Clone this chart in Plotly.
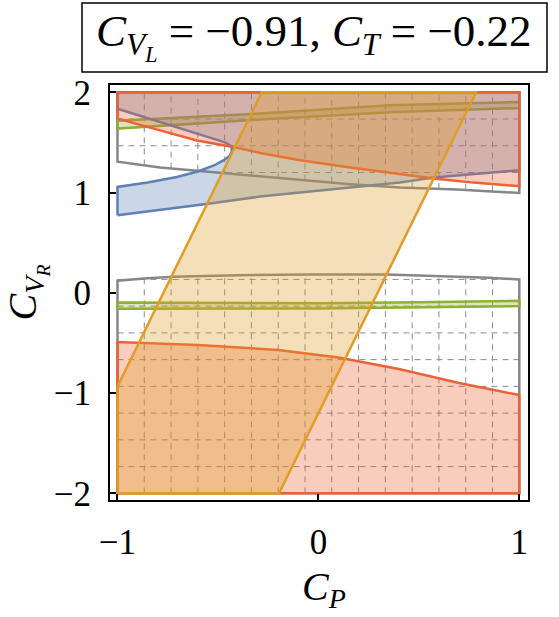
import numpy as np
import plotly.graph_objects as go

# ---------------- data ----------------
# red region: lower boundary (region below) and upper boundary (region above)
red_low_x = [-1.0, -0.6, -0.2, 0.1, 0.4, 0.7, 1.0]
red_low_y = [-0.49, -0.52, -0.57, -0.645, -0.76, -0.90, -1.02]
red_up_x = [-1.0, -0.788, -0.605, -0.423, -0.29, -0.091, 0.158, 0.357, 0.573, 0.772, 1.0]
red_up_y = [1.737, 1.62, 1.52, 1.454, 1.395, 1.322, 1.249, 1.196, 1.14, 1.099, 1.063]

# blue region: lower rising boundary and the sideways "nose" hole
blue_low_x = [-1.0, -0.788, -0.539, -0.29, -0.091, 0.158, 0.407, 0.573, 0.772, 1.0]
blue_low_y = [0.774, 0.825, 0.89, 0.96, 1.0, 1.05, 1.1, 1.149, 1.183, 1.222]
nose_x = [-1.0, -0.85, -0.705, -0.60, -0.52, -0.473, -0.445, -0.432, -0.431,
          -0.44, -0.46, -0.489, -0.55, -0.622, -0.75, -0.87, -1.0]
nose_y = [1.056, 1.10, 1.155, 1.21, 1.27, 1.32, 1.36, 1.40, 1.438,
          1.47, 1.495, 1.515, 1.56, 1.60, 1.68, 1.755, 1.836]

# orange band (corners)
orange_x = [-1.0, -0.196, 0.785, -0.282, -1.0]
orange_y = [-2.0, -2.0, 2.0, 2.0, -0.935]

# green bands (upper and lower edges)
gu_x = [-1.0, -0.29, 0.357, 1.0]
gu_top = [1.715, 1.788, 1.87, 1.903]
gu_bot = [1.638, 1.728, 1.80, 1.843]
gl_x = [-1.0, 0.0, 0.5, 1.0]
gl_top = [-0.096, -0.105, -0.095, -0.08]
gl_bot = [-0.16, -0.156, -0.148, -0.133]

# gray (meshed) region boundaries
gray_low_x = [-1.0, -0.85, -0.722, -0.4, -0.041, 0.34, 0.622, 0.85, 1.0]
gray_low_y = [0.12, 0.145, 0.16, 0.176, 0.183, 0.183, 0.166, 0.15, 0.133]
gray_up_x = [-1.0, -0.788, -0.539, -0.29, -0.091, 0.158, 0.407, 0.689, 1.0]
gray_up_y = [1.308, 1.249, 1.205, 1.155, 1.123, 1.083, 1.05, 1.03, 0.996]

x_ticks = [-1, 0, 1]
y_ticks = [-2, -1, 0, 1, 2]
title_text = "<i>C</i><sub><i>V</i><sub><i>L</i></sub></sub> = −0.91, <i>C</i><sub><i>T</i></sub> = −0.22"
x_title = "<i>C</i><sub><i>P</i></sub>"
y_title = "<i>C</i><sub><i>V</i><sub><i>R</i></sub></sub>"

XMIN, XMAX, YMIN, YMAX = -1.0, 1.0, -2.0, 2.0

# ---------------- styling ----------------
C_BLUE = (94, 129, 181)
C_ORANGE = (225, 156, 36)
C_GREEN = (143, 176, 50)
C_RED = (235, 98, 53)
C_GRAY = (135, 135, 135)
ALPHA = 0.32
LW = 2.5
FONT = "Liberation Serif"


def rgba(c, a):
    return "rgba(%d,%d,%d,%.3f)" % (c[0], c[1], c[2], a)


fig = go.Figure()

# ---- gray mesh (dashed) ----
mesh_x = np.linspace(XMIN, XMAX, 16)[1:-1]
mesh_y = np.linspace(YMIN, YMAX, 16)[1:-1]
mx, my = [], []
for xv in mesh_x:
    lo_top = float(np.interp(xv, gray_low_x, gray_low_y))
    up_bot = float(np.interp(xv, gray_up_x, gray_up_y))
    mx += [xv, xv, None, xv, xv, None]
    my += [YMIN, lo_top, None, up_bot, YMAX, None]
gux_r = gray_up_x[::-1]
guy_r = gray_up_y[::-1]
for yv in mesh_y:
    if yv <= max(gray_low_y):
        mx += [XMIN, XMAX, None]
        my += [yv, yv, None]
    elif yv >= min(gray_up_y):
        if yv >= max(gray_up_y):
            x0 = XMIN
        else:
            x0 = float(np.interp(yv, guy_r, gux_r))
        mx += [x0, XMAX, None]
        my += [yv, yv, None]
fig.add_trace(go.Scatter(x=mx, y=my, mode="lines",
                         line=dict(color="rgb(140,140,140)", width=1, dash="6px,5px"),
                         hoverinfo="skip", showlegend=False))

# ---- gray outline ----
gx = [XMIN] + gray_low_x + [XMAX, XMIN, None, XMIN] + gray_up_x + [XMAX, XMIN]
gy = [YMIN] + gray_low_y + [YMIN, YMIN, None, YMAX] + gray_up_y + [YMAX, YMAX]
fig.add_trace(go.Scatter(x=gx, y=gy, mode="lines",
                         line=dict(color=rgba(C_GRAY, 1), width=LW),
                         hoverinfo="skip", showlegend=False))

# ---- green bands ----
grx = gu_x + gu_x[::-1] + [gu_x[0], None] + gl_x + gl_x[::-1] + [gl_x[0]]
gry = gu_top + gu_bot[::-1] + [gu_top[0], None] + gl_top + gl_bot[::-1] + [gl_top[0]]
fig.add_trace(go.Scatter(x=grx, y=gry, mode="lines", fill="toself",
                         fillcolor=rgba(C_GREEN, ALPHA),
                         line=dict(color=rgba(C_GREEN, 1), width=LW),
                         hoverinfo="skip", showlegend=False))

# ---- blue region ----
bx = blue_low_x + [XMAX, XMIN] + nose_x[::-1] + [blue_low_x[0]]
by = blue_low_y + [YMAX, YMAX] + nose_y[::-1] + [blue_low_y[0]]
fig.add_trace(go.Scatter(x=bx, y=by, mode="lines", fill="toself",
                         fillcolor=rgba(C_BLUE, ALPHA),
                         line=dict(color=rgba(C_BLUE, 1), width=LW),
                         hoverinfo="skip", showlegend=False))

# ---- red regions ----
rx = [XMIN, XMAX] + red_low_x[::-1] + [XMIN, None, XMIN, XMAX] + red_up_x[::-1] + [XMIN]
ry = [YMIN, YMIN] + red_low_y[::-1] + [YMIN, None, YMAX, YMAX] + red_up_y[::-1] + [YMAX]
fig.add_trace(go.Scatter(x=rx, y=ry, mode="lines", fill="toself",
                         fillcolor=rgba(C_RED, ALPHA),
                         line=dict(color=rgba(C_RED, 1), width=LW),
                         hoverinfo="skip", showlegend=False))

# ---- orange band ----
fig.add_trace(go.Scatter(x=orange_x + [orange_x[0]], y=orange_y + [orange_y[0]],
                         mode="lines", fill="toself",
                         fillcolor=rgba(C_ORANGE, ALPHA),
                         line=dict(color=rgba(C_ORANGE, 1), width=LW),
                         hoverinfo="skip", showlegend=False))

# ---------------- layout ----------------
W, H = 559, 617
ML, MR, MT, MB = 110, 31, 85, 117
axis_common = dict(showgrid=False, zeroline=False, showline=True, linecolor="black",
                   linewidth=2, mirror=True, ticks="inside", ticklen=6, tickwidth=1.5,
                   tickcolor="black", tickfont=dict(family=FONT, size=35, color="black"))
fig.update_layout(
    width=W, height=H,
    margin=dict(l=ML, r=MR, t=MT, b=MB),
    paper_bgcolor="white", plot_bgcolor="white",
    xaxis=dict(range=[-1.0373, 1.0433], tickvals=x_ticks, ticklabelstandoff=10,
               **axis_common),
    yaxis=dict(range=[-2.0667, 2.0727], tickvals=y_ticks, ticklabelstandoff=10,
               title=dict(text=y_title, font=dict(family=FONT, size=40, color="black"), standoff=10),
               **axis_common),
    showlegend=False,
)

pw = W - ML - MR
ph = H - MT - MB
def px_to_paper_x(p):
    return (p - ML) / pw
def px_to_paper_y(p):
    return (H - MB - p) / ph

# x-axis title
fig.add_annotation(xref="paper", yref="paper",
                   x=px_to_paper_x(324), y=px_to_paper_y(589),
                   text=x_title, showarrow=False,
                   font=dict(family=FONT, size=40, color="black"),
                   xanchor="center", yanchor="middle")

# title box
fig.add_shape(type="rect", xref="paper", yref="paper",
              x0=px_to_paper_x(82), x1=px_to_paper_x(547),
              y0=px_to_paper_y(72), y1=px_to_paper_y(3),
              line=dict(color="black", width=1.5), fillcolor="white", layer="above")
fig.add_annotation(xref="paper", yref="paper",
                   x=px_to_paper_x(314), y=px_to_paper_y(37),
                   text=title_text, showarrow=False,
                   font=dict(family=FONT, size=45, color="black"),
                   xanchor="center", yanchor="middle")

fig.write_html("out.html")
